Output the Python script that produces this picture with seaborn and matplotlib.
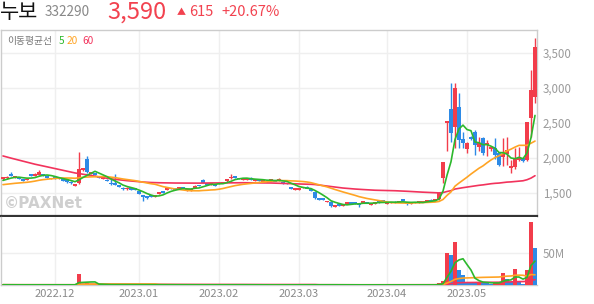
import numpy as np
import pandas as pd
import matplotlib
matplotlib.use("Agg")
import matplotlib.pyplot as plt
import seaborn as sns

# ---------------- data ----------------
month_pos = [13, 34, 54, 74, 96, 116]
month_labels = ["2022.12", "2023.01", "2023.02", "2023.03", "2023.04", "2023.05"]
price_ticks = [1500, 2000, 2500, 3000, 3500]
price_tick_labels = ["1,500", "2,000", "2,500", "3,000", "3,500"]
vol_ticks = [50]
vol_tick_labels = ["50M"]

opens = [1700, 1710, 1770, 1720, 1725, 1700, 1685, 1770, 1750, 1760, 1760, 1735, 1700, 1715, 1700, 1700, 1680, 1660, 1605, 1640,
         1830, 1985, 1775, 1780, 1745, 1705, 1690, 1645, 1640, 1610, 1575, 1555, 1565, 1560, 1530, 1470, 1455, 1460, 1450, 1490,
         1525, 1545, 1570, 1560, 1560, 1580, 1535, 1540, 1575, 1615, 1680, 1640, 1620, 1610, 1630, 1645, 1665, 1710, 1735, 1715,
         1695, 1695, 1705, 1680, 1690, 1670, 1660, 1680, 1680, 1680, 1650, 1640, 1580, 1550, 1555, 1570, 1580, 1555, 1520, 1425,
         1420, 1370, 1375, 1305, 1335, 1325, 1345, 1360, 1360, 1345, 1360, 1370, 1340, 1355, 1375, 1395, 1355, 1360, 1370, 1370,
         1410, 1360, 1345, 1360, 1365, 1370, 1380, 1400, 1395, 1414, 1710, 2510, 2700, 2447, 2733, 2267, 2124, 2305, 2376, 2162,
         2281, 2186, 2124, 2138, 2067, 2019, 2057, 1852, 1867, 1981, 1995, 1971, 2567, 2876]
highs = [1735, 1740, 1800, 1745, 1730, 1705, 1710, 1775, 1780, 1830, 1765, 1740, 1720, 1720, 1720, 1705, 1685, 1665, 1625, 2085,
         1860, 2030, 1800, 1785, 1750, 1730, 1700, 1700, 1770, 1615, 1580, 1580, 1570, 1565, 1535, 1475, 1460, 1465, 1470, 1520,
         1530, 1580, 1575, 1565, 1585, 1585, 1550, 1560, 1610, 1620, 1700, 1645, 1645, 1615, 1650, 1660, 1705, 1770, 1745, 1720,
         1705, 1710, 1725, 1695, 1700, 1690, 1675, 1700, 1685, 1720, 1655, 1645, 1585, 1565, 1570, 1590, 1600, 1560, 1525, 1430,
         1425, 1390, 1380, 1325, 1340, 1340, 1365, 1365, 1365, 1350, 1385, 1375, 1355, 1370, 1385, 1400, 1370, 1375, 1380, 1385,
         1420, 1365, 1360, 1375, 1380, 1385, 1395, 1410, 1415, 1510, 1945, 2530, 3067, 3067, 2924, 2376, 2230, 2320, 2400, 2296,
         2300, 2257, 2170, 2281, 2080, 2281, 2305, 1971, 2138, 2162, 2000, 2520, 3257, 3710]
lows = [1690, 1700, 1740, 1715, 1695, 1675, 1680, 1745, 1745, 1755, 1740, 1715, 1695, 1700, 1695, 1675, 1650, 1635, 1600, 1630,
        1815, 1790, 1770, 1755, 1715, 1700, 1665, 1620, 1615, 1590, 1550, 1550, 1545, 1540, 1485, 1380, 1420, 1440, 1445, 1485,
        1505, 1540, 1555, 1540, 1555, 1560, 1530, 1535, 1570, 1595, 1645, 1620, 1615, 1595, 1625, 1640, 1660, 1705, 1715, 1695,
        1690, 1690, 1680, 1675, 1675, 1665, 1655, 1675, 1665, 1675, 1635, 1625, 1560, 1545, 1550, 1565, 1565, 1530, 1420, 1405,
        1400, 1365, 1305, 1300, 1320, 1320, 1340, 1345, 1345, 1300, 1355, 1355, 1335, 1350, 1360, 1380, 1350, 1355, 1355, 1365,
        1390, 1335, 1340, 1355, 1360, 1365, 1375, 1385, 1390, 1405, 1640, 2104, 2233, 2138, 2138, 2138, 2067, 2260, 2043, 2104,
        2050, 2029, 2100, 1981, 1886, 1886, 1900, 1781, 1840, 1960, 1950, 1960, 2304, 2781]
closes = [1720, 1730, 1745, 1735, 1700, 1680, 1700, 1750, 1770, 1795, 1745, 1725, 1712, 1705, 1712, 1680, 1655, 1640, 1620, 1845,
          1850, 1800, 1790, 1765, 1720, 1720, 1670, 1625, 1620, 1595, 1555, 1570, 1550, 1545, 1490, 1440, 1435, 1445, 1465, 1510,
          1510, 1570, 1560, 1545, 1580, 1565, 1545, 1550, 1600, 1600, 1650, 1625, 1640, 1600, 1645, 1655, 1700, 1735, 1720, 1700,
          1700, 1705, 1695, 1690, 1680, 1680, 1670, 1690, 1670, 1695, 1640, 1630, 1565, 1560, 1565, 1585, 1570, 1535, 1425, 1410,
          1410, 1385, 1315, 1320, 1325, 1335, 1360, 1350, 1350, 1330, 1380, 1360, 1350, 1365, 1365, 1385, 1365, 1370, 1360, 1380,
          1395, 1340, 1355, 1370, 1375, 1380, 1390, 1390, 1410, 1496, 1945, 2525, 2360, 2996, 2257, 2210, 2210, 2276, 2186, 2210,
          2067, 2219, 2162, 2043, 1900, 2057, 2114, 1886, 1995, 1995, 1962, 2519, 2975, 3590]
# closes before the visible window (needed for the moving-average lines at the left edge)
prior_closes = [2680, 2650, 2620, 2640, 2600, 2580, 2570, 2560, 2505,
                2500, 2480, 2470, 2450, 2440, 2420, 2410, 2400, 2390, 2380, 2370, 2360, 2350, 2340, 2330, 2320, 2300,
                2100, 2050, 1990, 1940, 1900, 1870, 1840, 1800,
                1700, 1660, 1630, 1600, 1580, 1590, 1600, 1620, 1610, 1600, 1590, 1600, 1600,
                1580, 1560, 1570, 1590, 1600, 1610, 1620, 1640, 1650, 1660, 1680, 1690]
volumes = [0.4, 0.3, 0.5, 0.3, 0.3, 0.2, 0.3, 0.4, 0.3, 0.6, 0.4, 0.3, 0.2, 0.2, 0.3, 0.3, 0.3, 0.2, 0.4,
           17.7, 2.0, 2.6, 1.0, 0.8,
           0.6, 0.5, 0.5, 0.6, 0.7, 0.4, 0.5, 0.3, 0.3, 0.3,
           0.5, 0.7, 0.4, 0.3, 0.3, 0.4, 0.3, 0.4, 0.3, 0.3,
           0.3, 0.2, 0.2, 0.2, 0.3, 0.3, 0.5, 0.3, 0.2, 0.2,
           0.3, 0.3, 0.4, 0.6, 0.3, 0.3, 0.2, 0.2, 0.3, 0.2,
           0.2, 0.2, 0.2, 0.2, 0.2, 0.3, 0.3, 0.2, 0.4, 0.3,
           0.2, 0.2, 0.3, 0.3, 0.6, 0.4, 0.3, 0.3, 0.5, 0.3,
           0.2, 0.2, 0.2, 0.2, 0.2, 0.3, 0.3, 0.2, 0.2, 0.2,
           0.2, 0.3, 0.2, 0.2, 0.2, 0.2, 0.3, 0.3, 0.2, 0.2,
           0.2, 0.2, 0.2, 0.2, 0.3,
           2.6, 6.3, 50.5, 47.4, 67.7, 24.0, 15.6, 5.2, 4.2, 4.0, 5.2, 4.2, 2.6, 1.6, 2.5, 5.0, 18.0, 9.4, 5.2,
           24.5, 5.2, 1.6, 23.0, 99.0, 58.0]

# ---------------- styling ----------------
RED = "#f23d4b"
BLUE = "#2d8ae6"
MA5_C = "#2cb82c"
MA20_C = "#ffa424"
MA60_C = "#f2335c"
GRID = "#efefef"

sns.set_theme(style="white")
plt.rcParams["font.family"] = ["Noto Sans CJK KR", "DejaVu Sans"]

n = len(closes)
idx = np.arange(n)
df = pd.DataFrame({"idx": idx, "open": opens, "high": highs, "low": lows,
                   "close": closes, "volume": volumes})
full = pd.Series(prior_closes + closes, dtype=float)
k = len(prior_closes)
df["ma5"] = full.rolling(5).mean().iloc[k:].values
df["ma20"] = full.rolling(20).mean().iloc[k:].values
df["ma60"] = full.rolling(60).mean().iloc[k:].values
vol = pd.Series(volumes, dtype=float)
df["v5"] = vol.rolling(5, min_periods=1).mean()
df["v20"] = vol.rolling(20, min_periods=1).mean()
df["v60"] = vol.rolling(60, min_periods=1).mean()

W, H = 594, 304
fig = plt.figure(figsize=(W / 100, H / 100), dpi=100)
def fx(px): return px / W
def fy(py): return 1 - py / H

ax = fig.add_axes([fx(1), fy(216), 536 / W, (216 - 30) / H])
axv = fig.add_axes([fx(1), fy(285), 536 / W, (285 - 217) / H])

# --- grid ---
for x in month_pos:
    ax.axvline(x, color=GRID, lw=1, zorder=0)
    axv.axvline(x, color=GRID, lw=1, zorder=0)
for p in price_ticks:
    ax.axhline(p, color=GRID, lw=1, zorder=0)
axv.axhline(50, color=GRID, lw=1, zorder=0)

# --- candles ---
up = df["close"] >= df["open"]
colors = np.where(up, RED, BLUE)
body_lo = np.minimum(df["open"], df["close"])
body_h = np.abs(df["close"] - df["open"])
min_h = 24.0
body_lo = np.where(body_h < min_h, (df["open"] + df["close"]) / 2 - min_h / 2, body_lo)
body_h = np.maximum(body_h, min_h)
ax.vlines(df["idx"], df["low"], df["high"], colors=colors, lw=1.0, zorder=2)
ax.bar(df["idx"], body_h, bottom=body_lo, width=0.8, color=colors, lw=0, zorder=3)

sns.lineplot(data=df, x="idx", y="ma60", color=MA60_C, lw=1.2, ax=ax, zorder=4)
sns.lineplot(data=df, x="idx", y="ma20", color=MA20_C, lw=1.2, ax=ax, zorder=5)
sns.lineplot(data=df, x="idx", y="ma5", color=MA5_C, lw=1.2, ax=ax, zorder=6)

ax.set_xlim(-0.5, n - 0.5)
ax.set_ylim(2000 + (158 - 216) / 0.07, 2000 + (158 - 30) / 0.07)
ax.set_xlabel("")
ax.set_ylabel("")
ax.yaxis.tick_right()
ax.set_yticks(price_ticks)
ax.set_yticklabels(price_tick_labels)
ax.set_xticks(month_pos)
ax.set_xticklabels([])
ax.tick_params(axis="y", length=0, pad=4, labelsize=8.3, labelcolor="#9a9a9a")
ax.tick_params(axis="x", length=0)
for s in ["top", "right", "left"]:
    ax.spines[s].set_color("#cccccc")
    ax.spines[s].set_linewidth(1)
ax.spines["bottom"].set_color("#333333")
ax.spines["bottom"].set_linewidth(1.6)

# --- volume panel ---
vup = df["volume"].diff().fillna(1) >= 0
vcolors = np.where(vup, RED, BLUE)
axv.bar(df["idx"], df["volume"], width=0.8, color=vcolors, lw=0, zorder=3)
sns.lineplot(data=df, x="idx", y="v60", color=MA60_C, lw=1.2, ax=axv, zorder=4)
sns.lineplot(data=df, x="idx", y="v20", color=MA20_C, lw=1.2, ax=axv, zorder=5)
sns.lineplot(data=df, x="idx", y="v5", color=MA5_C, lw=1.2, ax=axv, zorder=6)
axv.set_xlim(-0.5, n - 0.5)
axv.set_ylim(0, 68 / 32 * 50)
axv.set_xlabel("")
axv.set_ylabel("")
axv.yaxis.tick_right()
axv.set_yticks(vol_ticks)
axv.set_yticklabels(vol_tick_labels)
axv.set_xticks(month_pos)
axv.set_xticklabels(month_labels)
axv.tick_params(axis="y", length=0, pad=4, labelsize=8.3, labelcolor="#9a9a9a")
axv.tick_params(axis="x", length=0, pad=3, labelsize=8.0, labelcolor="#8a8a8a")
for s in ["top", "right"]:
    axv.spines[s].set_visible(False)
for s in ["left", "bottom"]:
    axv.spines[s].set_color("#cccccc")
    axv.spines[s].set_linewidth(1)

# --- header & labels ---
fig.text(fx(0), fy(11.5), "누보", fontsize=15, color="#111111", va="center", ha="left")
fig.text(fx(45), fy(12.5), "332290", fontsize=9.8, color="#888888", va="center", ha="left")
fig.text(fx(107), fy(12.5), "3,590", fontsize=17, color="#f2424f", va="center", ha="left")
fig.text(fx(177), fy(12.5), "▲", fontsize=6.5, color="#f2424f", va="center", ha="left")
fig.text(fx(189), fy(12.5), "615", fontsize=10.5, color="#f2424f", va="center", ha="left")
fig.text(fx(221), fy(12.5), "+20.67%", fontsize=10.5, color="#f2424f", va="center", ha="left")

fig.text(fx(7), fy(41), "이동평균선", fontsize=7, color="#777777", va="center", ha="left")
fig.text(fx(59), fy(41), "5", fontsize=7.3, color=MA5_C, va="center", ha="left")
fig.text(fx(67), fy(41), "20", fontsize=7.3, color=MA20_C, va="center", ha="left")
fig.text(fx(82), fy(41), "60", fontsize=7.3, color=MA60_C, va="center", ha="left")

fig.text(fx(4), fy(204), "©PAXNet", fontsize=11, color="#cfcfcf", va="center", ha="left",
         fontweight="bold", family=["DejaVu Sans"])

fig.savefig("out.png", dpi=100)
